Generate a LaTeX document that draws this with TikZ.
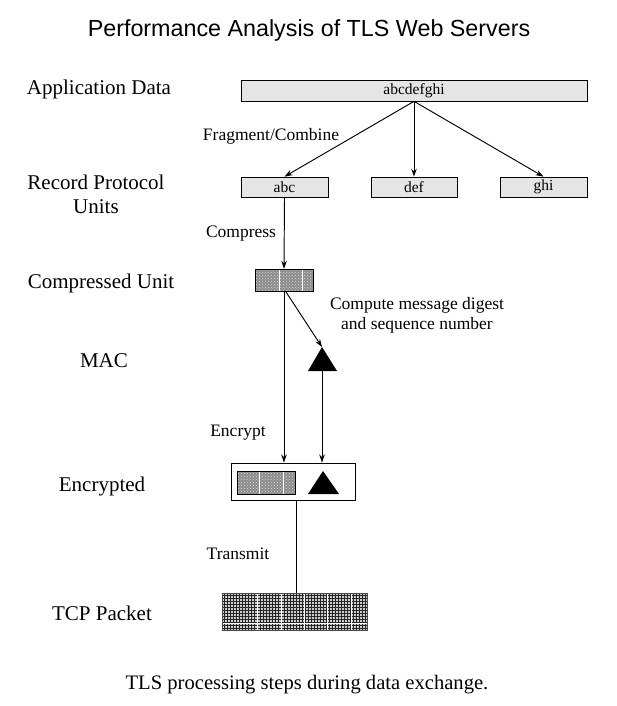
\documentclass[tikz,border=0pt]{standalone}
\usepackage{fontspec}
\setmainfont{Liberation Serif}
\newfontfamily\titlefont{Liberation Sans}
\usetikzlibrary{patterns,arrows.meta}
\begin{document}
\begin{tikzpicture}[x=1pt,y=-1pt,
  lbl/.style={inner sep=0pt,font=\fontsize{21}{24}\selectfont,align=center},
  sm/.style={inner sep=0pt,font=\fontsize{17.5}{20}\selectfont,align=center},
  databox/.style={draw,line width=0.7pt,fill=black!10,inner sep=0pt,font=\fontsize{15.5}{18}\selectfont},
  arr/.style={-{Stealth[length=8pt,width=5.5pt]},line width=0.95pt},
  ln/.style={line width=0.95pt},
  dotbox/.style={minimum width=58pt,inner sep=0pt,fill=black!45,postaction={pattern=crosshatch dots,pattern color=white!85!black}},
  gridln/.style={black!85,line width=0.55pt}
]
\useasboundingbox (0,0) rectangle (617,706);
\node[inner sep=0pt,font=\titlefont\fontsize{23.3}{26}\selectfont] (title) at (309,30) {Performance Analysis of TLS Web Servers};

% left labels
\node[lbl] (lapp) at (99,89) {Application Data};
\node[lbl] (lrec) at (96,194) {Record Protocol\\Units};
\node[lbl] (lcomp) at (101,283) {Compressed Unit};
\node[lbl] (lmac) at (104,361) {MAC};
\node[lbl] (lenc) at (102,486) {Encrypted};
\node[lbl] (ltcp) at (102,613) {TCP Packet};

% data boxes
\node[databox,minimum width=346pt,minimum height=21pt] (all) at (414,90.5) {abcdefghi};
\node[databox,minimum width=87pt,minimum height=20pt] (abc) at (284.5,187) {abc};
\node[databox,minimum width=86pt,minimum height=20pt] (def) at (414,187) {def};
\node[databox,minimum width=87pt,minimum height=20pt] (ghi) at (543.5,187) {ghi};

\draw[arr] (all.south) -- (abc.north);
\draw[arr] (all.south) -- (def.north);
\draw[arr] (all.south) -- (ghi.north);
\node[sm] (tfrag) at (271,136) {Fragment/Combine};

% compressed unit
\node[dotbox,minimum height=22pt] (cu) at (284,280) {};
\draw[white,line width=0.8pt] ([xshift=-5pt]cu.north) -- ([xshift=-5pt]cu.south)
  ([xshift=18pt]cu.north) -- ([xshift=18pt]cu.south);
\draw[draw=black,line width=0.6pt] (cu.north west) rectangle (cu.south east);
\draw[arr] (abc.south) -- (cu.north);
\node[sm] (tcomp) at (241,234) {Compress};

% MAC triangle
\coordinate (mtop) at (322,347);
\coordinate (mbl) at (308,371);
\coordinate (mbr) at (337,371);
\coordinate (mbase) at (322,371);
\fill[black] (mtop) -- (mbr) -- (mbl) -- cycle;
\node[sm] (tdig) at (417,315) {Compute message digest\\and sequence number};

% encrypted box
\node[draw,line width=0.95pt,fill=white,minimum width=124pt,minimum height=37pt,inner sep=0pt] (enc) at (293,481.5) {};
\node[dotbox,minimum height=23pt] (ecu) at (266,482.5) {};
\draw[white,line width=0.8pt] ([xshift=-7pt]ecu.north) -- ([xshift=-7pt]ecu.south)
  ([xshift=17pt]ecu.north) -- ([xshift=17pt]ecu.south);
\draw[draw=black,line width=0.6pt] (ecu.north west) rectangle (ecu.south east);
\coordinate (etop) at (323,471);
\coordinate (ebl) at (308,494);
\coordinate (ebr) at (339,494);
\fill[black] (etop) -- (ebr) -- (ebl) -- cycle;

\draw[arr] (cu.south) -- (cu.south |- enc.north);
\draw[arr] ([xshift=1.5pt]cu.south) -- (mtop);
\draw[arr] (mbase) -- (mbase |- enc.north);
\node[sm] (tenc) at (238,433) {Encrypt};

% TCP packet
\node[minimum width=145pt,minimum height=37pt,inner sep=0pt,fill=black!20] (tcp) at (294.5,612) {};
\foreach \xx in {224.5,227.5,...,366} {
  \draw[gridln] (\xx,0 |- tcp.north) -- (\xx,0 |- tcp.south);
}
\foreach \yy in {595.5,598.5,...,630} {
  \draw[gridln] (tcp.west |- 0,\yy) -- (tcp.east |- 0,\yy);
}
\foreach \xx in {257,281,304,327,351} {
  \draw[white,line width=1pt] (\xx,0 |- tcp.north) -- (\xx,0 |- tcp.south);
}
\draw[white,line width=1pt] (tcp.west |- 0,623) -- (tcp.east |- 0,623);
\draw[line width=0.6pt,draw=black!70] (tcp.north west) rectangle (tcp.south east);
\draw[ln] (enc.south -| 296,0) -- (tcp.north -| 296,0);
\node[sm] (ttrans) at (238,554) {Transmit};

\node[inner sep=0pt,font=\fontsize{20.6}{24}\selectfont] (cap) at (307,685) {TLS processing steps during data exchange.};
\end{tikzpicture}
\end{document}
